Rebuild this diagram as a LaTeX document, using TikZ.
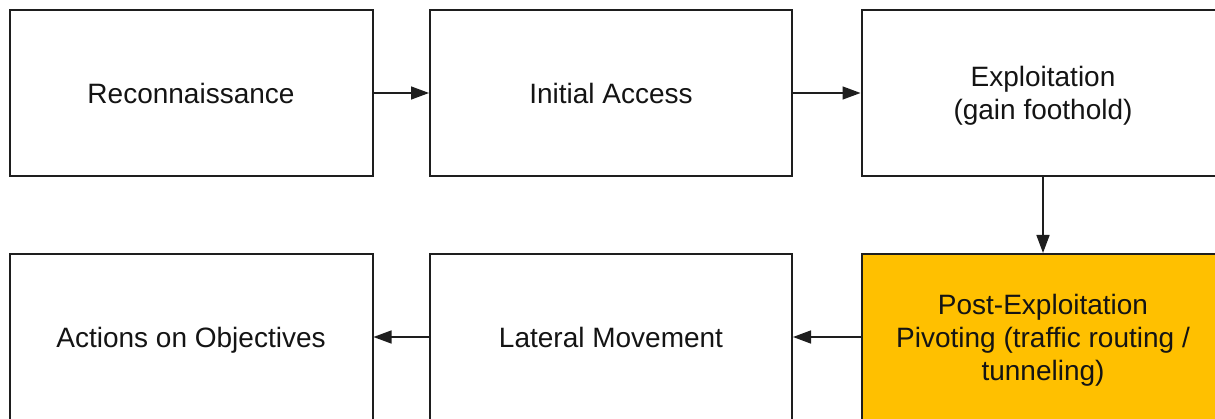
\documentclass[tikz,border=0pt]{standalone}
\usepackage{fontspec}
\setmainfont{Liberation Sans}
\usetikzlibrary{arrows.meta,shadows}
\definecolor{stageline}{RGB}{30,30,30}
\definecolor{stagetext}{RGB}{20,20,20}
\definecolor{highlight}{RGB}{255,192,0}
\tikzset{
  stagebox/.style={draw=stageline, line width=2pt, fill=white,
    minimum width=363pt, minimum height=166pt, inner sep=0pt,
    align=center, text=stagetext, text depth=0pt,
    font=\fontsize{28pt}{33pt}\selectfont,
    drop shadow={shadow xshift=1.2pt, shadow yshift=-1.2pt, opacity=0.25, fill=black}},
  hot/.style={fill=highlight},
  flow/.style={draw=stageline, line width=1.5pt,
    -{Triangle[length=18pt,width=13pt]}}
}
\begin{document}
\begin{tikzpicture}[x=1pt,y=1pt]
  \useasboundingbox (0,0) rectangle (1215,418);
  \clip (0,0) rectangle (1215,418);
  \fill[white] (0,0) rectangle (1215,418);

  % top row
  \node[stagebox] (recon)   at (191,325)  {Reconnaissance};
  \node[stagebox, minimum width=362pt] (access) at (611,325) {Initial Access};
  \node[stagebox] (exploit) at (1043,325) {Exploitation\\(gain foothold)};

  % bottom row
  \node[stagebox] (actions) at (191,81)   {Actions on Objectives};
  \node[stagebox, minimum width=362pt] (lateral) at (611,81) {Lateral Movement};
  \node[stagebox, hot] (post) at (1043,81)
    {Post-Exploitation\\Pivoting (traffic routing /\\tunneling)};

  % flow between stages
  \draw[flow] (recon.east)    -- (access.west);
  \draw[flow] (access.east)   -- (exploit.west);
  \draw[flow] (exploit.south) -- (post.north);
  \draw[flow] (post.west)     -- (lateral.east);
  \draw[flow] (lateral.west)  -- (actions.east);
\end{tikzpicture}
\end{document}
